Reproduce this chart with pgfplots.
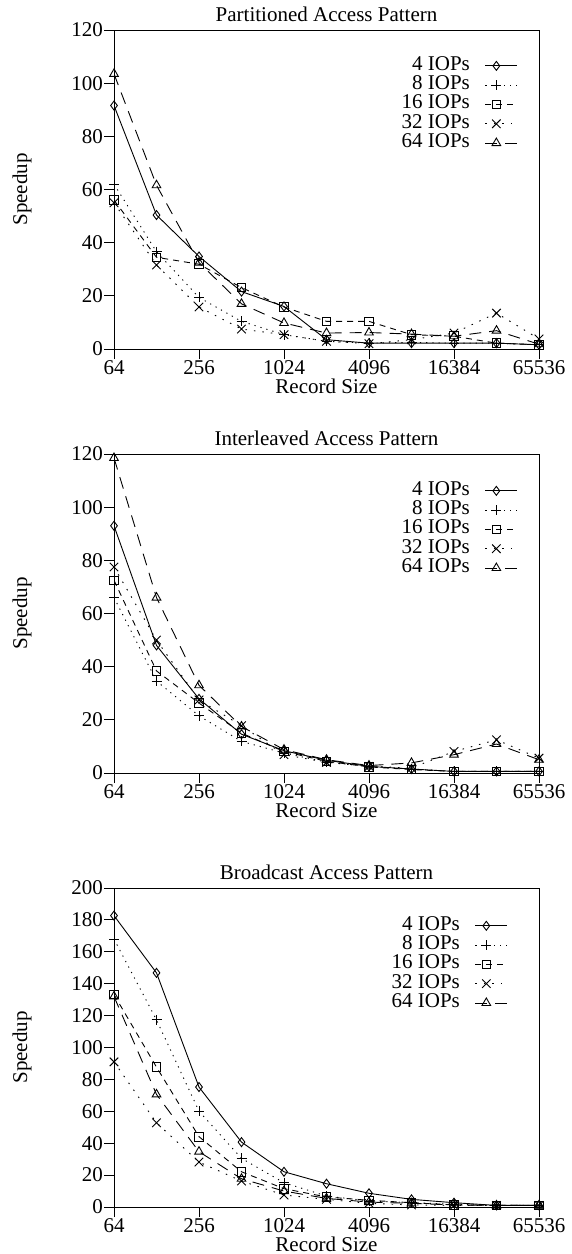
\documentclass[border=0pt]{standalone}
\usepackage{fontspec}
\setmainfont{Liberation Serif}
\usepackage{pgfplots}
\pgfplotsset{compat=1.18}
\newcommand{\fs}{\fontsize{21}{23}\selectfont}
\pgfplotsset{
  legend image code/.code={\draw[mark repeat=2,mark phase=2,#1] plot coordinates {(0pt,0pt) (11pt,0pt) (32pt,0pt)};},
  myaxis/.style={
    scale only axis, width=425pt, height=319pt,
    xmin=64, xmax=65536,
    xtick={64,256,1024,4096,16384,65536},
    xticklabels={64,256,1024,4096,16384,65536},
    ymin=0,
    tick align=outside, major tick length=10pt,
    xtick pos=bottom, ytick pos=left,
    axis line style={line width=0.9pt},
    every tick/.style={black, line width=0.9pt},
    /pgf/number format/assume math mode=true,
    tick label style={font=\fs},
    xticklabel style={inner sep=1pt},
    yticklabel style={inner sep=1pt},
    label style={font=\fs},
    title style={font=\fs, inner sep=2pt},
    xlabel={Record Size}, ylabel={Speedup},
    xlabel style={at={(axis description cs:0.5,0)}, anchor=north, yshift=-30pt, inner sep=0pt},
    ylabel style={at={(axis description cs:-0.2165,0.5)}, anchor=center},
    clip mode=individual,
    every axis plot/.append style={black, line width=0.9pt},
    legend style={draw=none, fill=none, font=\fs, anchor=north east,
      inner sep=0pt, row sep=0pt,
      nodes={inner sep=0pt, text height=14pt, text depth=5.3pt},
      /tikz/every odd column/.append style={column sep=15pt}},
    legend cell align=right,
    legend plot pos=right,
  },
  s4/.style={solid, mark=diamond, mark size=4.5pt, mark options={solid}},
  s8/.style={dash pattern=on 1.2pt off 5pt, mark=+, mark size=5pt, mark options={solid}},
  s16/.style={dash pattern=on 6pt off 5pt, mark=square, mark size=4.3pt, mark options={solid}},
  s32/.style={dash pattern=on 1.5pt off 7pt, mark=x, mark size=6pt, mark options={solid}},
  s64/.style={dash pattern=on 12pt off 8pt, mark=triangle, mark size=5pt, mark options={solid}},
}
\begin{document}
\begin{tikzpicture}
\path (-114pt,30pt) rectangle (457pt,-1224pt);
% ---------------- Partitioned
\begin{axis}[xmode=log, log basis x=2, myaxis, at={(0pt,0pt)}, anchor=north west,
  title={Partitioned Access Pattern}, ymax=120, ytick={0,20,...,120},
  legend style={at={(0.9506,0.9185)}}]
\addplot[s4] coordinates {(64,91.6) (128,50.4) (256,34.8) (512,21.6) (1024,16) (2048,3.5) (4096,2.2) (8192,2.2) (16384,2.2) (32768,2.2) (65536,1.6)};
\addplot[s8] coordinates {(64,62) (128,36.6) (256,19.4) (512,10.4) (1024,5.4) (2048,2.9) (4096,2.2) (8192,2.5) (16384,2.2) (32768,2.2) (65536,1.6)};
\addplot[s16] coordinates {(64,56) (128,34.5) (256,31.9) (512,23.1) (1024,15.8) (2048,10.4) (4096,10.4) (8192,5.4) (16384,4.8) (32768,2.2) (65536,1.6)};
\addplot[s32] coordinates {(64,55) (128,31.6) (256,15.8) (512,7.5) (1024,5.4) (2048,2.9) (4096,2) (8192,3.5) (16384,6) (32768,13.5) (65536,3.8)};
\addplot[s64] coordinates {(64,103.5) (128,61.6) (256,32.5) (512,17) (1024,9.8) (2048,6) (4096,6.2) (8192,5.6) (16384,4.8) (32768,6.9) (65536,1.8)};
\legend{4 IOPs,8 IOPs,16 IOPs,32 IOPs,64 IOPs}
\end{axis}
% ---------------- Interleaved
\begin{axis}[xmode=log, log basis x=2, myaxis, at={(0pt,-424pt)}, anchor=north west,
  title={Interleaved Access Pattern}, ymax=120, ytick={0,20,...,120},
  legend style={at={(0.9506,0.9154)}}]
\addplot[s4] coordinates {(64,93) (128,48) (256,27.9) (512,14.6) (1024,8.4) (2048,4.8) (4096,2.5) (8192,1.5) (16384,0.6) (32768,0.6) (65536,0.6)};
\addplot[s8] coordinates {(64,66) (128,34.6) (256,21.5) (512,11.9) (1024,7.5) (2048,4.1) (4096,2.5) (8192,1.5) (16384,0.6) (32768,0.6) (65536,0.6)};
\addplot[s16] coordinates {(64,72.5) (128,38.4) (256,26.3) (512,15) (1024,8.1) (2048,4.4) (4096,2.3) (8192,1.3) (16384,0.6) (32768,0.6) (65536,0.6)};
\addplot[s32] coordinates {(64,77.5) (128,50) (256,27.5) (512,17.8) (1024,6.9) (2048,4) (4096,2.5) (8192,1.9) (16384,8.1) (32768,12.5) (65536,5.6)};
\addplot[s64] coordinates {(64,118.5) (128,66) (256,33) (512,17.5) (1024,8.8) (2048,5) (4096,2.8) (8192,3.8) (16384,6.9) (32768,10.9) (65536,5)};
\legend{4 IOPs,8 IOPs,16 IOPs,32 IOPs,64 IOPs}
\end{axis}
% ---------------- Broadcast
\begin{axis}[xmode=log, log basis x=2, myaxis, at={(0pt,-858pt)}, anchor=north west,
  title={Broadcast Access Pattern}, ymax=200, ytick={0,20,...,200},
  legend style={at={(0.927,0.9125)}}]
\addplot[s4] coordinates {(64,182.7) (128,146.8) (256,75.2) (512,40.7) (1024,22.1) (2048,14.6) (4096,8.6) (8192,4.8) (16384,2.7) (32768,1) (65536,1)};
\addplot[s8] coordinates {(64,168) (128,117.3) (256,60.1) (512,30.5) (1024,15.2) (2048,6.9) (4096,3.8) (8192,2.7) (16384,1.7) (32768,1) (65536,1)};
\addplot[s16] coordinates {(64,133.2) (128,87.7) (256,44.1) (512,22.1) (1024,11.5) (2048,6.3) (4096,4.2) (8192,2.7) (16384,1.3) (32768,1) (65536,1)};
\addplot[s32] coordinates {(64,91) (128,52.8) (256,28.2) (512,16.3) (1024,7.5) (2048,4.8) (4096,2.3) (8192,1.3) (16384,1) (32768,1) (65536,1)};
\addplot[s64] coordinates {(64,132) (128,70.6) (256,34.7) (512,17.7) (1024,10) (2048,5.4) (4096,3.1) (8192,2.3) (16384,1.3) (32768,1) (65536,1)};
\legend{4 IOPs,8 IOPs,16 IOPs,32 IOPs,64 IOPs}
\end{axis}
\end{tikzpicture}
\end{document}
